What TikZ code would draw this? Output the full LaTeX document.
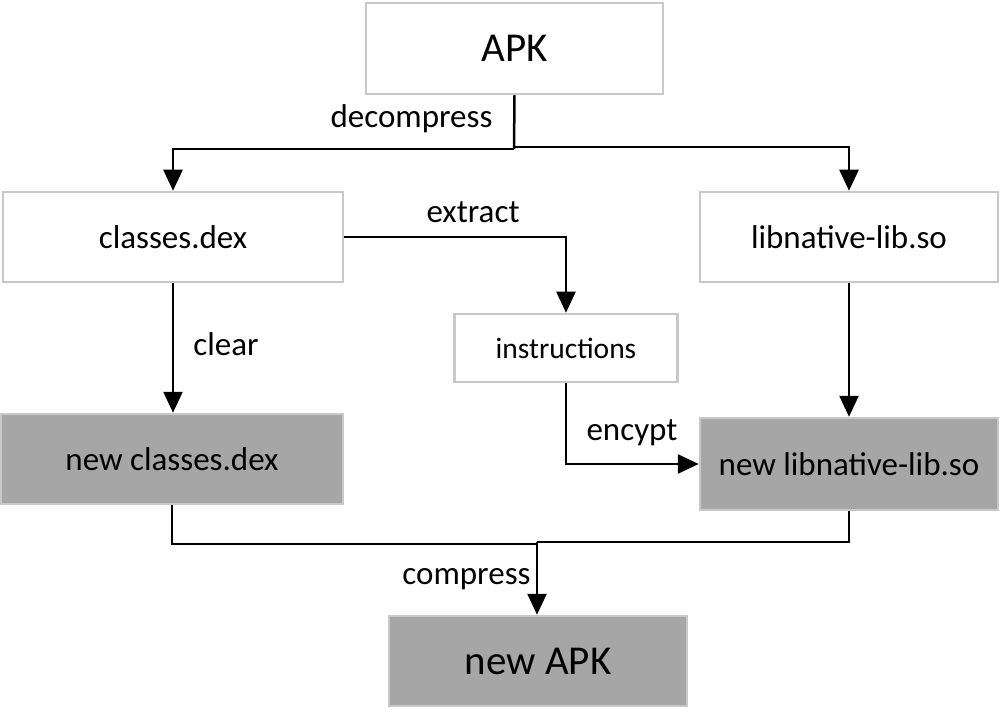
\documentclass[tikz,border=0pt]{standalone}
\usepackage{fontspec}
\setmainfont{Carlito}
\usetikzlibrary{arrows.meta}
\definecolor{boxline}{HTML}{C8C8C8}
\definecolor{boxfill}{HTML}{A6A6A6}
\begin{document}
\begin{tikzpicture}[x=1pt,y=-1pt,
  plainbox/.style={draw=boxline,line width=2.5pt,fill=white,inner sep=0pt,anchor=center},
  graybox/.style={plainbox,fill=boxfill},
  big/.style={font=\fontsize{41}{48}\selectfont},
  mid/.style={font=\fontsize{33}{40}\selectfont},
  small/.style={font=\fontsize{29.5}{35}\selectfont},
  conn/.style={line width=2.5pt,-{Triangle[length=21pt,width=19pt]}},
  connplain/.style={line width=2.5pt},
  lbl/.style={mid,anchor=base,inner sep=0pt}]
\useasboundingbox (0,0) rectangle (1000,708);
\node[plainbox,big,minimum width=297pt,minimum height=91pt] (apk) at (514.5,48.5) {APK};
\node[plainbox,mid,minimum width=340pt,minimum height=90pt] (cls) at (173,237) {classes.dex};
\node[plainbox,mid,minimum width=298pt,minimum height=90pt] (lib) at (849,237) {libnative-lib.so};
\node[plainbox,small,minimum width=223pt,minimum height=68pt] (ins) at (566,348) {instructions};
\node[graybox,mid,minimum width=342pt,minimum height=90pt] (ncls) at (172,459) {new classes.dex};
\node[graybox,mid,minimum width=298pt,minimum height=92pt] (nlib) at (849,464) {new libnative-lib.so};
\node[graybox,big,minimum width=298pt,minimum height=90pt] (napk) at (538,661) {new APK};
\coordinate (splitL) at (514,149);
\coordinate (splitR) at (514,147);
\coordinate (joinL) at (537,544);
\coordinate (joinR) at (537,542);
\draw[connplain] (apk.south) -- (splitL);
\draw[conn] (splitL) -| (cls.north);
\draw[conn] (splitR) -| (lib.north);
\draw[conn] (cls.east) -| (ins.north);
\draw[conn] (cls.south) -- (cls.south |- ncls.north);
\draw[conn] (lib.south) -- (nlib.north);
\draw[conn] (ins.south) |- (nlib.west);
\draw[connplain] (ncls.south) |- (joinL);
\draw[connplain] (nlib.south) |- (joinR);
\draw[conn] (joinR) -- (joinR |- napk.north);
\node[lbl] (ldec) at (411.5,128) {decompress};
\node[lbl] (lext) at (473,223) {extract};
\node[lbl] (lclr) at (226,355) {clear};
\node[lbl] (lenc) at (632,440) {encypt};
\node[lbl] (lcmp) at (466.5,584) {compress};
\end{tikzpicture}
\end{document}
